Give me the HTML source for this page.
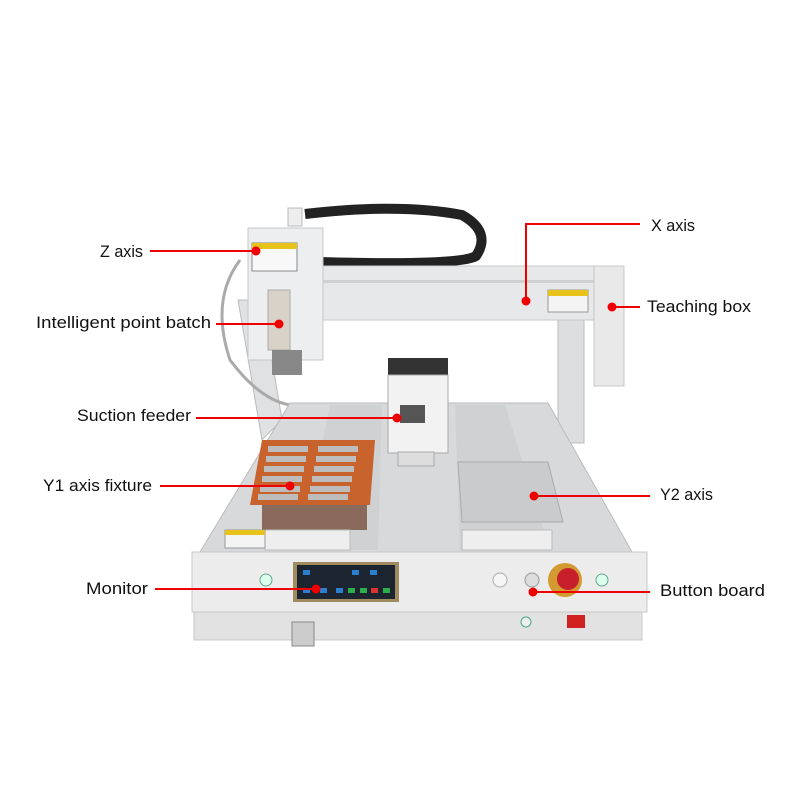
<!DOCTYPE html>
<html><head><meta charset="utf-8"><style>
html,body{margin:0;padding:0;background:#fff;}
svg{display:block;}
text{font-family:"Liberation Sans",sans-serif;font-size:16.5px;fill:#111;}
</style></head><body>
<svg width="800" height="800" viewBox="0 0 800 800">
<rect width="800" height="800" fill="#fff"/>
<!-- cable chain -->
<path d="M305 214 Q400 203 462 215 Q492 232 476 256 Q460 266 320 262" fill="none" stroke="#222" stroke-width="10"/>
<rect x="288" y="208" width="14" height="18" fill="#eee" stroke="#bbb"/>
<!-- columns -->
<polygon points="238,300 262,300 282,420 262,440" fill="#dfe1e3" stroke="#bbb"/>
<rect x="558" y="318" width="26" height="125" fill="#dcdee0" stroke="#bbb"/>
<!-- gantry beam -->
<rect x="310" y="266" width="290" height="54" fill="#e6e8ea" stroke="#c5c7c9"/>
<rect x="310" y="280" width="290" height="3" fill="#cfd1d3"/>
<rect x="548" y="290" width="40" height="22" fill="#f4f4f4" stroke="#999"/>
<rect x="548" y="290" width="40" height="6" fill="#e7c21a"/>
<!-- teaching box -->
<rect x="594" y="266" width="30" height="120" fill="#e9e9e9" stroke="#c8c8c8"/>
<!-- Z head -->
<rect x="248" y="228" width="75" height="132" fill="#eceef0" stroke="#c5c7c9"/>
<rect x="252" y="243" width="45" height="28" fill="#f8f8f8" stroke="#888"/>
<rect x="252" y="243" width="45" height="6" fill="#e7c21a"/>
<rect x="268" y="290" width="22" height="60" fill="#d8d2c8" stroke="#aaa"/>
<rect x="272" y="350" width="30" height="25" fill="#888"/>
<path d="M240 260 Q210 300 230 360 Q260 400 290 405" fill="none" stroke="#aaa" stroke-width="3"/>
<!-- table top -->
<polygon points="290,403 548,403 632,552 200,552" fill="#d7d9db" stroke="#bbb"/>
<polygon points="330,405 382,405 378,550 300,550" fill="#cfd1d3"/>
<polygon points="455,405 505,405 550,550 460,550" fill="#cfd1d3"/>
<!-- feeder -->
<rect x="388" y="358" width="60" height="22" fill="#333"/>
<rect x="388" y="375" width="60" height="78" fill="#f2f2f2" stroke="#aaa"/>
<rect x="398" y="452" width="36" height="14" fill="#ddd" stroke="#aaa"/>
<rect x="400" y="405" width="25" height="18" fill="#555"/>
<!-- Y1 fixture -->
<rect x="262" y="500" width="105" height="30" fill="#8a6a5a"/>
<rect x="265" y="530" width="85" height="20" fill="#eee" stroke="#bbb"/>
<polygon points="262,440 375,440 370,505 250,505" fill="#c8632e"/>
<g fill="#bdbdbd">
<rect x="268" y="446" width="40" height="6"/><rect x="318" y="446" width="40" height="6"/>
<rect x="266" y="456" width="40" height="6"/><rect x="316" y="456" width="40" height="6"/>
<rect x="264" y="466" width="40" height="6"/><rect x="314" y="466" width="40" height="6"/>
<rect x="262" y="476" width="40" height="6"/><rect x="312" y="476" width="40" height="6"/>
<rect x="260" y="486" width="40" height="6"/><rect x="310" y="486" width="40" height="6"/>
<rect x="258" y="494" width="40" height="6"/><rect x="308" y="494" width="40" height="6"/>
</g>
<!-- Y2 plate -->
<rect x="462" y="530" width="90" height="20" fill="#eee" stroke="#bbb"/>
<polygon points="458,462 548,462 563,522 462,522" fill="#c9cbcd" stroke="#aaa"/>
<!-- front panel -->
<rect x="192" y="552" width="455" height="60" fill="#ececec" stroke="#c8c8c8"/>
<rect x="194" y="612" width="448" height="28" fill="#e2e2e2" stroke="#c8c8c8"/>
<rect x="293" y="562" width="106" height="40" fill="#a08a60"/>
<rect x="297" y="565" width="98" height="34" fill="#1c2430"/>
<g fill="#2a7fd0"><rect x="303" y="570" width="7" height="5"/><rect x="352" y="570" width="7" height="5"/><rect x="370" y="570" width="7" height="5"/><rect x="303" y="588" width="7" height="5"/><rect x="320" y="588" width="7" height="5"/><rect x="336" y="588" width="7" height="5"/></g>
<g fill="#2cae4a"><rect x="348" y="588" width="7" height="5"/><rect x="360" y="588" width="7" height="5"/><rect x="383" y="588" width="7" height="5"/></g>
<rect x="371" y="588" width="7" height="5" fill="#d33"/>
<circle cx="266" cy="580" r="6" fill="#dfe" stroke="#6a8"/>
<circle cx="500" cy="580" r="7" fill="#f5f5f5" stroke="#aaa"/>
<circle cx="532" cy="580" r="7" fill="#ddd" stroke="#999"/>
<circle cx="565" cy="580" r="17" fill="#d29a30"/>
<circle cx="568" cy="579" r="11" fill="#c8202a"/>
<circle cx="602" cy="580" r="6" fill="#dfe" stroke="#6a8"/>
<circle cx="526" cy="622" r="5" fill="#eee" stroke="#4a8"/>
<rect x="567" y="615" width="18" height="13" fill="#d02020"/>
<rect x="292" y="622" width="22" height="24" fill="#ccc" stroke="#888"/>
<rect x="225" y="530" width="40" height="18" fill="#f4f4f4" stroke="#999"/>
<rect x="225" y="530" width="40" height="5" fill="#e7c21a"/>
<!-- callouts -->
<g stroke="#e00" stroke-width="2" fill="none">
<line x1="150" y1="251" x2="256" y2="251"/>
<polyline points="640,224 526,224 526,301"/>
<line x1="612" y1="307" x2="640" y2="307"/>
<line x1="216" y1="324" x2="279" y2="324"/>
<line x1="196" y1="418" x2="397" y2="418"/>
<line x1="160" y1="486" x2="290" y2="486"/>
<line x1="534" y1="496" x2="650" y2="496"/>
<line x1="155" y1="589" x2="316" y2="589"/>
<line x1="533" y1="592" x2="650" y2="592"/>
</g>
<g fill="#e00">
<circle cx="256" cy="251" r="4.5"/><circle cx="526" cy="301" r="4.5"/><circle cx="612" cy="307" r="4.5"/>
<circle cx="279" cy="324" r="4.5"/><circle cx="397" cy="418" r="4.5"/><circle cx="290" cy="486" r="4.5"/>
<circle cx="534" cy="496" r="4.5"/><circle cx="316" cy="589" r="4.5"/><circle cx="533" cy="592" r="4.5"/>
</g>
<text x="100" y="257" textLength="43" lengthAdjust="spacingAndGlyphs">Z axis</text>
<text x="651" y="231" textLength="44" lengthAdjust="spacingAndGlyphs">X axis</text>
<text x="647" y="312" textLength="104" lengthAdjust="spacingAndGlyphs">Teaching box</text>
<text x="36" y="328" textLength="175" lengthAdjust="spacingAndGlyphs">Intelligent point batch</text>
<text x="77" y="421" textLength="114" lengthAdjust="spacingAndGlyphs">Suction feeder</text>
<text x="43" y="491" textLength="109" lengthAdjust="spacingAndGlyphs">Y1 axis fixture</text>
<text x="660" y="500" textLength="53" lengthAdjust="spacingAndGlyphs">Y2 axis</text>
<text x="86" y="594" textLength="62" lengthAdjust="spacingAndGlyphs">Monitor</text>
<text x="660" y="596" textLength="105" lengthAdjust="spacingAndGlyphs">Button board</text>
</svg>
</body></html>
